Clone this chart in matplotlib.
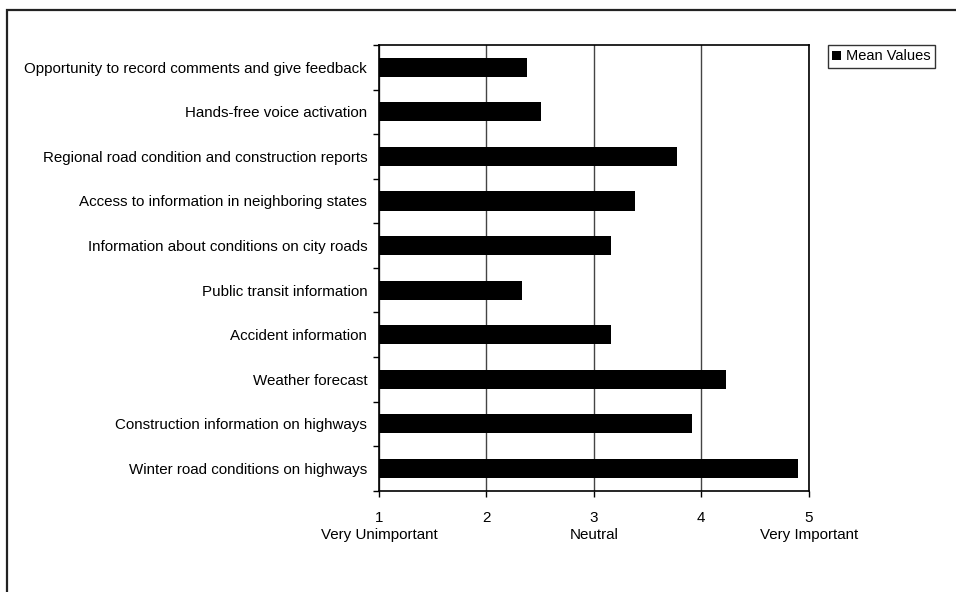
import matplotlib.pyplot as plt
from matplotlib.patches import Rectangle
import numpy as np

plt.rcParams['font.family'] = ['Liberation Sans', 'DejaVu Sans']

# Survey features, listed bottom to top as they appear on the y axis
features = [
    "Winter road conditions on highways",
    "Construction information on highways",
    "Weather forecast",
    "Accident information",
    "Public transit information",
    "Information about conditions on city roads",
    "Access to information in neighboring states",
    "Regional road condition and construction reports",
    "Hands-free voice activation",
    "Opportunity to record comments and give feedback",
]
mean_values = [4.90, 3.91, 4.23, 3.16, 2.33, 3.16, 3.38, 3.77, 2.51, 2.38]

scale_ticks = [1, 2, 3, 4, 5]
scale_labels = {1: "Very Unimportant", 3: "Neutral", 5: "Very Important"}

FS = 10.9

fig = plt.figure(figsize=(9.56, 5.92), dpi=100)
ax = fig.add_axes([0.3964, 0.1711, 0.4495, 0.7529])

# outer frame of the chart area (left and top edges visible)
fig.patches.append(Rectangle((7 / 956, -0.1), 1.2, 1 - 10 / 592 + 0.1,
                             transform=fig.transFigure, fill=False,
                             edgecolor='#222222', linewidth=1.6))

y = np.arange(len(features))
ax.barh(y, np.array(mean_values) - 1, left=1, height=0.43, color='black',
        label='Mean Values', zorder=3)

ax.set_xlim(1, 5)
ax.set_ylim(-0.5, len(features) - 0.5)
ax.set_xticks(scale_ticks)
ax.set_xticklabels([str(t) for t in scale_ticks], fontsize=FS)
ax.tick_params(axis='x', direction='out', length=4, width=1, pad=10.5)

# category labels centered on bars, ticks on the boundaries
ax.set_yticks(y)
ax.set_yticklabels(features, fontsize=FS)
ax.tick_params(axis='y', which='major', length=0, pad=8.5)
ax.set_yticks(np.arange(len(features) + 1) - 0.5, minor=True)
ax.tick_params(axis='y', which='minor', direction='out', length=4, width=1)

ax.grid(axis='x', color='#444444', linewidth=1, zorder=0)
for s in ax.spines.values():
    s.set_linewidth(1.2)
    s.set_color('black')

for val, txt in scale_labels.items():
    ax.annotate(txt, xy=(val, 0), xycoords=('data', 'axes fraction'),
                xytext=(0, -26.6), textcoords='offset points',
                ha='center', va='top', fontsize=FS)

leg = ax.legend(loc='upper left', bbox_to_anchor=(828 / 956, 1 - 45 / 592),
                bbox_transform=fig.transFigure, fontsize=FS - 0.4, frameon=True,
                fancybox=False, handlelength=0.6, handleheight=0.6,
                handletextpad=0.3, borderpad=0.3, borderaxespad=0)
leg.get_frame().set_edgecolor('black')
leg.get_frame().set_linewidth(1)

fig.savefig('out.png', dpi=100)
